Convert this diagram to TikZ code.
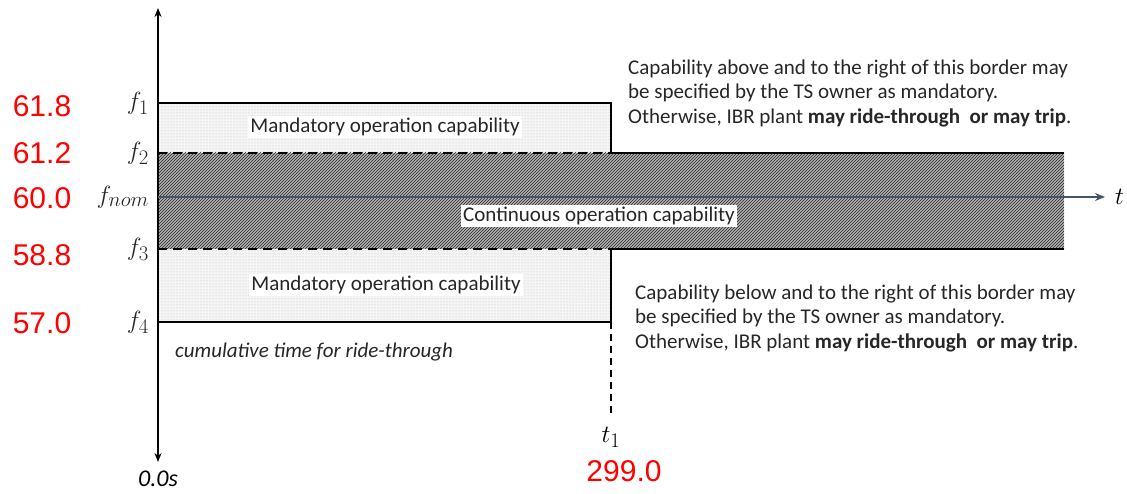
\documentclass[tikz,border=0pt]{standalone}
\usepackage{fontspec}
\setmainfont{Carlito}
\newfontfamily\numfont{Liberation Sans}
\usetikzlibrary{patterns,arrows.meta}
\definecolor{axisblue}{HTML}{44546A}
\definecolor{valred}{HTML}{FF0000}
\begin{document}
\begin{tikzpicture}[x=1pt,y=-1pt,
  border/.style={line width=2.5pt,black},
  dashborder/.style={line width=2.5pt,black,dash pattern=on 9pt off 6pt},
  bodytext/.style={font=\fontsize{21}{24.5}\selectfont,align=left,inner sep=0pt,text=black!85},
  regionlabel/.style={font=\fontsize{21}{24}\selectfont,fill=white,inner sep=2pt,text=black!85},
  flabel/.style={font=\fontsize{28}{30}\selectfont,anchor=east,inner sep=0pt,text=black!85},
  vallabel/.style={font=\numfont\fontsize{30}{32}\selectfont,text=valred,inner sep=0pt},
  dotfill/.style={fill=gray!8,postaction={pattern=dots,pattern color=gray!55}},
  hatchfill/.style={fill=gray!60,postaction={pattern=north east lines,pattern color=black!85}}
]
\useasboundingbox (0,0) rectangle (1127,494);

% frequency levels (pixel rows)
\def\yA{103}\def\yB{153}\def\yN{197}\def\yC{249}\def\yD{322}
\def\xO{158}\def\xT{611}\def\xE{1064}

% shaded regions
\fill[dotfill] (\xO,\yA) rectangle (\xT,\yB);
\fill[dotfill] (\xO,\yC) rectangle (\xT,\yD);
\fill[hatchfill] (\xO,\yB) rectangle (\xE,\yC);

% borders
\draw[border] (\xO,\yA) -- (\xT,\yA) -- (\xT,\yB);
\draw[border] (\xT,\yC) -- (\xT,\yD) -- (\xO,\yD);
\draw[dashborder] (\xO,\yB) -- (\xT,\yB);
\draw[dashborder] (\xO,\yC) -- (\xT,\yC);
\draw[border] (\xT,\yB) -- (\xE,\yB);
\draw[border] (\xT,\yC) -- (\xE,\yC);

% vertical axis
\coordinate (axtop) at (\xO,8);
\coordinate (axbot) at (\xO,462);
\draw[line width=2.2pt,{Stealth[length=9pt,width=7pt]}-{Stealth[length=9pt,width=7pt]}] (axtop) -- (axbot);

% time axis at nominal frequency
\coordinate (tstart) at (\xO,\yN);
\coordinate (tend) at (1105,\yN);
\draw[axisblue,line width=2.4pt,-{Stealth[length=10pt,width=8pt]}] (tstart) -- (tend);
\node[font=\fontsize{28}{30}\selectfont,anchor=west,inner sep=0pt] (tlab) at (1115,\yN) {$t$};

% t1 marker
\coordinate (tbase) at (\xT,\yD);
\coordinate (tlow) at (\xT,417);
\draw[line width=1.8pt,dash pattern=on 7pt off 5pt] (tbase) -- (tlow);
\node[font=\fontsize{28}{30}\selectfont,inner sep=0pt] (t1) at (\xT,437) {$t_1$};
\node[vallabel] (t1val) at (624,471) {299.0};

% frequency labels
\node[flabel] (f1) at (149,\yA) {$f_1$};
\node[flabel] (f2) at (149,\yB) {$f_2$};
\node[flabel] (fnom) at (149,\yN) {$f_{nom}$};
\node[flabel] (f3) at (149,\yC) {$f_3$};
\node[flabel] (f4) at (149,\yD) {$f_4$};

\node[vallabel] (v1) at (42,106) {61.8};
\node[vallabel] (v2) at (42,153) {61.2};
\node[vallabel] (v3) at (42,198) {60.0};
\node[vallabel] (v4) at (42,255) {58.8};
\node[vallabel] (v5) at (42,323) {57.0};

\node[font=\fontsize{24}{26}\selectfont\itshape,inner sep=1pt] (t0) at (158,479) {0.0s};

% region labels
\node[regionlabel] (mand1) at (385,127) {Mandatory operation capability};
\node[regionlabel] (mand2) at (386,285) {Mandatory operation capability};
\node[regionlabel] (cont) at (599,216) {Continuous operation capability};

\node[bodytext,font=\fontsize{21}{24}\selectfont\itshape,anchor=west] (cum) at (175,352) {cumulative time for ride-through};

% notes
\node[bodytext,anchor=west] (noteup) at (628,93) {Capability above and to the right of this border may\\be specified by the TS owner as mandatory.\\Otherwise, IBR plant \textbf{may ride-through\ \ or may trip}.};
\node[bodytext,anchor=west] (notelow) at (635,318) {Capability below and to the right of this border may\\be specified by the TS owner as mandatory.\\Otherwise, IBR plant \textbf{may ride-through\ \ or may trip}.};
\end{tikzpicture}
\end{document}
